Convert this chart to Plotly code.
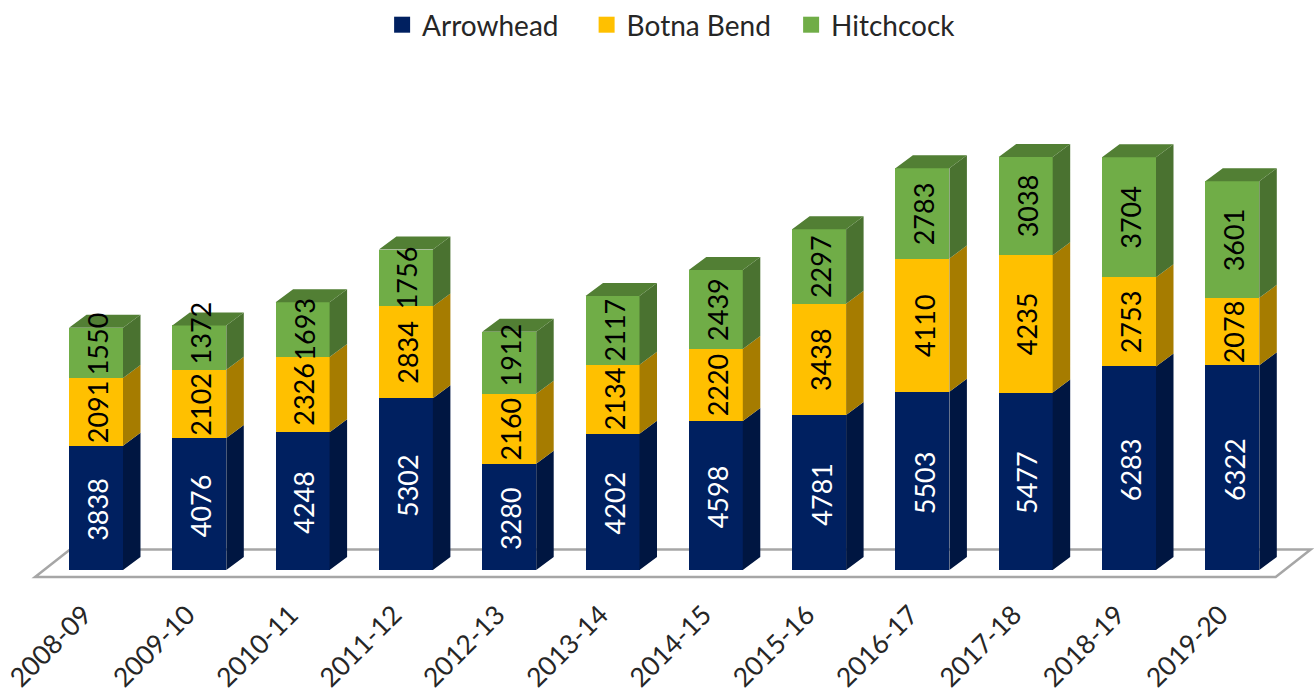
import plotly.graph_objects as go

categories = ["2008-09", "2009-10", "2010-11", "2011-12", "2012-13", "2013-14",
              "2014-15", "2015-16", "2016-17", "2017-18", "2018-19", "2019-20"]
arrowhead = [3838, 4076, 4248, 5302, 3280, 4202, 4598, 4781, 5503, 5477, 6283, 6322]
botna_bend = [2091, 2102, 2326, 2834, 2160, 2134, 2220, 3438, 4110, 4235, 2753, 2078]
hitchcock = [1550, 1372, 1693, 1756, 1912, 2117, 2439, 2297, 2783, 3038, 3704, 3601]

series = [
    ("Arrowhead", arrowhead, "#002060", "#001641", None, "white"),
    ("Botna Bend", botna_bend, "#FFC000", "#A67C00", None, "black"),
    ("Hitchcock", hitchcock, "#70AD47", "#4A7230", "#527F34", "black"),
]

# labels the reference lifts off their segment's centre (pixels)
label_lift = {("Hitchcock", 0): 9, ("Hitchcock", 1): 15, ("Hitchcock", 4): 8}
series_lift = {"Arrowhead": -1.5, "Botna Bend": 0, "Hitchcock": 0}

W, H = 1314, 692
STEP = 103.3          # px per category
X0 = 96               # px of first category centre
PX_PER_VAL = 0.0324   # px per unit
BASE = 570
PLOT_BOTTOM = 593
BAR_W = 54 / STEP
DX = 17.5 / STEP
DY = 13 / PX_PER_VAL

xr = [(0 - X0) / STEP, (W - X0) / STEP]
yr = [(BASE - PLOT_BOTTOM) / PX_PER_VAL, BASE / PX_PER_VAL]

fig = go.Figure()
xs = list(range(len(categories)))

# floor, behind every bar
fl = (-0.59, 11.42)
fd_x, fd_y = 35 / STEP, 27.5 / PX_PER_VAL
fy = -7 / PX_PER_VAL
floor_path = (f"M {fl[0]} {fy} L {fl[1]} {fy} L {fl[1] + fd_x} {fy + fd_y} "
              f"L {fl[0] + fd_x} {fy + fd_y} Z")
shapes = [dict(type="path", xref="x", yref="y", path=floor_path, layer="below",
               line=dict(color="#A6A6A6", width=2.5), fillcolor="white")]

bottoms = [0] * len(xs)
annotations = []
for name, vals, front, side, top, tc in series:
    fig.add_trace(go.Bar(x=xs, y=vals, base=bottoms, width=BAR_W, name=name,
                         marker=dict(color=front, line=dict(width=0)),
                         showlegend=False))
    sx, sy = [], []
    for i, v in enumerate(vals):
        r = i + BAR_W / 2
        b = bottoms[i]
        sx += [r, r + DX, r + DX, r, r, None]
        sy += [b, b + DY, b + v + DY, b + v, b, None]
        annotations.append(dict(x=i + 1.5 / STEP, y=b + v / 2, text=str(v), textangle=-90,
                                yshift=label_lift.get((name, i), series_lift[name]),
                                showarrow=False, font=dict(family="Lato", size=27, color=tc)))
    fig.add_trace(go.Scatter(x=sx, y=sy, mode="lines", line=dict(width=0), fill="toself",
                             fillcolor=side, showlegend=False, hoverinfo="skip"))
    bottoms = [b + v for b, v in zip(bottoms, vals)]
    if top:
        tx, ty = [], []
        for i, t in enumerate(bottoms):
            l, r = i - BAR_W / 2, i + BAR_W / 2
            tx += [l, r, r + DX, l + DX, l, None]
            ty += [t, t, t + DY, t + DY, t, None]
        fig.add_trace(go.Scatter(x=tx, y=ty, mode="lines", line=dict(width=0), fill="toself",
                                 fillcolor=top, showlegend=False, hoverinfo="skip"))

# legend entries
for name, vals, front, side, top, tc in series:
    fig.add_trace(go.Scatter(x=[None], y=[None], mode="markers", name=name,
                             marker=dict(symbol="square", size=16, color=front)))

fig.update_layout(
    width=W, height=H, autosize=False,
    barmode="overlay", bargap=0,
    margin=dict(l=0, r=0, t=0, b=H - PLOT_BOTTOM, pad=0),
    paper_bgcolor="white", plot_bgcolor="white",
    font=dict(family="Lato", size=27, color="#262626"),
    xaxis=dict(range=xr, tickmode="array", tickvals=xs, ticktext=categories, tickangle=-45,
               showgrid=False, zeroline=False, showline=False, ticks="", automargin=False,
               ticklabelshift=-12, ticklabeloverflow="allow",
               tickfont=dict(family="Lato", size=26.5, color="#262626")),
    yaxis=dict(range=yr, visible=False, showgrid=False, zeroline=False, automargin=False),
    legend=dict(orientation="h", x=0.2908, xanchor="left", y=1.0, yanchor="top",
                traceorder="normal", bgcolor="rgba(0,0,0,0)", itemsizing="trace",
                entrywidth=159.5, entrywidthmode="pixels",
                font=dict(family="Lato", size=28, color="#262626")),
    annotations=annotations,
    shapes=shapes,
)
fig.write_html("out.html", config={"displayModeBar": False},
               post_script="document.body.style.margin='0';")
